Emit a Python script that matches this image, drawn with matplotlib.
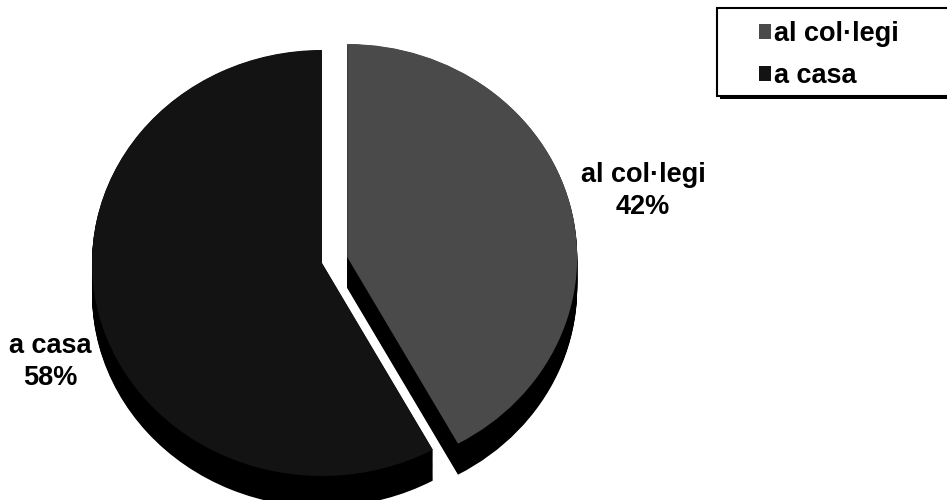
import numpy as np
import matplotlib
matplotlib.use("Agg")
import matplotlib.pyplot as plt
from matplotlib.patches import Rectangle

# data
labels = ["al col·legi", "a casa"]
shares = [42, 58]
pct_text = ["42%", "58%"]
face_colors = ["#4a4a4a", "#131313"]

plt.rcParams['font.family'] = ['Liberation Sans', 'DejaVu Sans']

W, H = 947, 500
fig = plt.figure(figsize=(W / 100, H / 100), dpi=100)
ax = fig.add_axes([0, 0, 1, 1])

# pie is a tilted disc: squash y so the circle reads as an ellipse
rx, ry = 230.0, 213.0
k = rx / ry


def py(y_img):
    # image pixel row -> data y
    return (H - y_img) * k


cx, cy = 322, py(263)
depth = 31 * k
explode = [26, 0]  # pie takes this in data units

# side of the disc: stack of black copies going down
for d in np.arange(depth, 0, -1.0):
    ax.pie(shares, colors=["black", "black"], startangle=90, counterclock=False,
           explode=explode, radius=rx, center=(cx, cy - d),
           wedgeprops=dict(linewidth=0), frame=True)

wedges, _ = ax.pie(shares, colors=face_colors, startangle=90, counterclock=False,
                   explode=explode, radius=rx, center=(cx, cy),
                   wedgeprops=dict(linewidth=0), frame=True)

ax.set_aspect('auto')
ax.set_xlim(0, W)
ax.set_ylim(0, H * k)
ax.axis('off')

# slice labels
fs = 19.5
ax.text(643, py(191), labels[0] + "\n" + pct_text[0], ha='center', va='center',
        fontsize=fs, fontweight='bold', linespacing=1.3)
ax.text(50, py(362), labels[1] + "\n" + pct_text[1], ha='center', va='center',
        fontsize=fs, fontweight='bold', linespacing=1.3)

# legend box with a heavy shadow on the lower edge
ax.add_patch(Rectangle((720, py(99)), 260, py(11) - py(99), facecolor='black',
                       edgecolor='none', zorder=5))
ax.add_patch(Rectangle((717, py(96)), 260, py(8) - py(96), facecolor='white',
                       edgecolor='black', linewidth=1.5, zorder=6))

leg = fig.legend(wedges, labels, loc='upper left',
                 bbox_to_anchor=(759 / W, 1 - 21 / H), frameon=False,
                 prop=dict(weight='bold', size=fs),
                 handlelength=0.45, handleheight=0.45, handletextpad=0.12,
                 labelspacing=0.6, borderpad=0, borderaxespad=0)
leg.set_zorder(10)

fig.savefig("out.png", dpi=100)
